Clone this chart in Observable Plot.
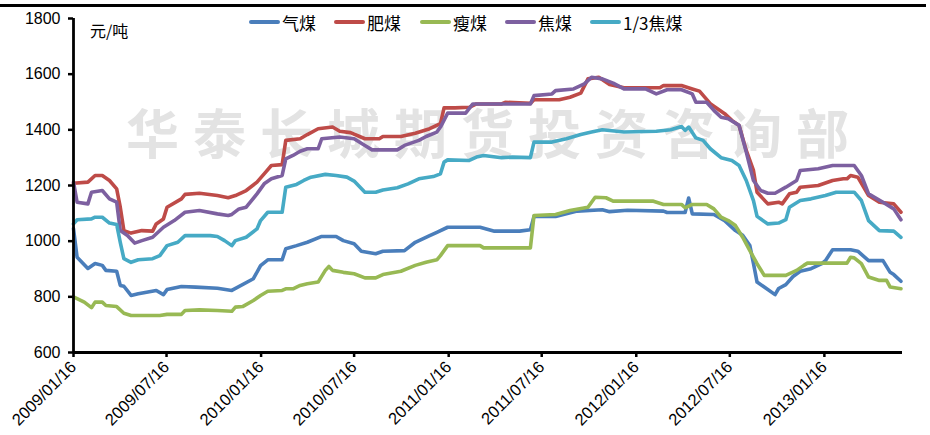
<!DOCTYPE html>
<html>
<head>
<meta charset="utf-8">
<script src="https://cdn.jsdelivr.net/npm/d3@7"></script>
<script src="https://cdn.jsdelivr.net/npm/@observablehq/plot@0.6"></script>
<style>
  html, body { margin: 0; padding: 0; background: #fff; }
  #wrap { position: relative; width: 930px; height: 435px; overflow: hidden; font-family: "Liberation Sans", Arial, sans-serif; }
  #topline { position: absolute; left: 0; top: 4px; width: 926px; height: 3px; background: #000; }
  #watermark { position: absolute; left: 126px; top: 93px; font-family: "Noto Sans CJK SC", sans-serif; font-weight: 700; font-size: 53px; letter-spacing: 14px; color: #e3e3e3; white-space: nowrap; }
  #chart { position: absolute; left: 0; top: 0; }
  #unit { position: absolute; left: 90px; top: 18px; font-family: "Noto Sans CJK SC", sans-serif; font-size: 16px; color: #000; }
  .leg { position: absolute; top: 12px; height: 20px; display: flex; align-items: center; font-family: "Noto Sans CJK SC", sans-serif; font-size: 17px; color: #000; white-space: nowrap; }
  .leg span.sw { display: inline-block; width: 31px; height: 4px; border-radius: 2px; margin-right: 2px; }
</style>
</head>
<body>
<div id="wrap">
  <div id="topline"></div>
  <div id="watermark">华泰长城期货投资咨询部</div>
  <div id="chart"></div>
  <div id="unit">元/吨</div>
  <div id="legend"></div>
</div>
<script>
// ---- data (week offset from startDate, price in 元/吨) ----
const startDate = "2009-01-16";
const seriesNames = ["气煤", "肥煤", "瘦煤", "焦煤", "1/3焦煤"];
const seriesColors = ["#4A7EBB", "#BE4B48", "#98B954", "#7D60A0", "#46AAC5"];
const xTickDates = ["2009-01-16","2009-07-16","2010-01-16","2010-07-16","2011-01-16","2011-07-16","2012-01-16","2012-07-16","2013-01-16"];
const xDomainEnd = "2013-06-17";
const yTicks = [600, 800, 1000, 1200, 1400, 1600, 1800];

const qimei = [[0,1045],[1,942],[4,902],[6,920],[8,913],[9,895],[12,892],[13,841],[14,838],[16,805],[18,811],[23,823],[25,808],[26,826],[30,837],[34,835],[40,831],[44,823],[50,865],[52,912],[54,933],[58,933],[59,973],[62,984],[65,996],[69,1017],[73,1017],[75,1002],[78,991],[80,964],[84,955],[86,964],[92,966],[95,996],[99,1020],[101,1032],[104,1050],[113,1050],[117,1036],[124,1036],[127,1041],[128,1089],[134,1089],[140,1108],[147,1113],[149,1106],[154,1111],[164,1108],[165,1103],[170,1103],[171,1155],[172,1098],[178,1096],[181,1074],[184,1038],[186,1021],[188,984],[189,920],[190,853],[192,835],[195,808],[196,830],[198,844],[200,873],[202,892],[205,901],[208,919],[209,930],[211,969],[216,969],[218,964],[221,930],[225,930],[227,888],[228,880],[230,856]];

const feimei = [[0,1208],[4,1212],[6,1236],[8,1236],[10,1218],[12,1188],[13,1122],[14,1038],[16,1029],[19,1038],[22,1036],[23,1062],[25,1080],[26,1122],[30,1152],[31,1168],[35,1172],[40,1164],[43,1156],[45,1164],[48,1182],[51,1212],[53,1242],[55,1272],[58,1275],[59,1362],[63,1368],[65,1383],[68,1404],[72,1410],[74,1395],[77,1390],[81,1368],[85,1368],[86,1376],[91,1376],[95,1388],[99,1404],[102,1422],[103,1479],[106,1479],[110,1481],[112,1493],[119,1493],[120,1499],[127,1495],[128,1508],[135,1508],[138,1517],[141,1532],[143,1583],[146,1589],[149,1563],[153,1551],[163,1551],[164,1559],[169,1559],[172,1547],[174,1539],[177,1494],[181,1458],[183,1434],[185,1416],[187,1326],[189,1254],[190,1176],[193,1134],[196,1140],[197,1134],[199,1170],[201,1176],[202,1194],[207,1200],[211,1218],[214,1224],[215,1224],[216,1236],[218,1230],[221,1164],[224,1140],[228,1134],[230,1104]];

const shoumei = [[0,800],[3,781],[5,761],[6,781],[8,781],[9,769],[12,765],[14,741],[16,733],[24,733],[26,737],[30,737],[31,751],[35,753],[40,751],[44,748],[45,763],[47,765],[50,787],[52,805],[54,820],[58,823],[59,829],[61,829],[63,841],[65,847],[68,853],[70,895],[71,909],[72,895],[75,888],[78,883],[81,868],[84,868],[86,880],[91,892],[95,913],[98,924],[101,933],[102,948],[104,984],[113,984],[114,976],[127,976],[128,1092],[134,1096],[138,1110],[143,1122],[145,1158],[148,1156],[150,1144],[161,1144],[164,1132],[169,1132],[170,1120],[172,1132],[176,1132],[178,1116],[180,1086],[182,1074],[184,1056],[186,1014],[188,966],[190,919],[192,877],[198,877],[201,895],[203,913],[204,921],[215,921],[216,942],[217,940],[219,919],[221,871],[224,859],[226,859],[227,835],[230,829]];

const jiaomei = [[0,1212],[1,1140],[4,1134],[5,1176],[8,1182],[10,1152],[12,1140],[13,1038],[15,1020],[17,993],[19,1002],[22,1014],[25,1050],[28,1074],[31,1104],[35,1110],[40,1098],[43,1092],[44,1096],[46,1116],[48,1122],[51,1170],[53,1206],[55,1224],[58,1236],[59,1296],[61,1308],[63,1323],[65,1332],[68,1332],[69,1368],[74,1374],[78,1368],[81,1344],[83,1328],[90,1328],[92,1344],[96,1362],[98,1376],[101,1392],[102,1410],[104,1460],[109,1460],[111,1493],[127,1493],[128,1523],[133,1529],[134,1541],[139,1547],[142,1565],[144,1589],[147,1583],[150,1568],[153,1547],[159,1547],[162,1529],[165,1544],[169,1544],[172,1529],[173,1499],[176,1499],[178,1470],[180,1445],[182,1440],[185,1416],[187,1320],[189,1218],[191,1182],[193,1172],[195,1172],[198,1194],[201,1218],[202,1254],[207,1260],[211,1272],[217,1272],[219,1236],[221,1170],[225,1140],[228,1116],[230,1077]];

const sanfenJiaomei = [[0,1062],[1,1077],[5,1080],[6,1086],[8,1086],[10,1065],[12,1060],[13,996],[14,937],[16,924],[18,933],[22,937],[24,948],[26,984],[29,996],[31,1020],[38,1020],[40,1017],[42,1002],[44,984],[45,1002],[48,1014],[51,1044],[52,1074],[54,1104],[58,1104],[59,1194],[62,1204],[64,1218],[66,1230],[70,1240],[73,1236],[76,1230],[78,1216],[81,1176],[84,1176],[86,1184],[90,1192],[93,1206],[96,1224],[100,1232],[102,1242],[103,1284],[104,1292],[110,1290],[112,1302],[114,1308],[119,1300],[122,1302],[127,1300],[128,1356],[133,1356],[137,1368],[141,1383],[144,1392],[147,1400],[153,1392],[162,1395],[166,1400],[169,1412],[170,1398],[171,1410],[173,1371],[175,1362],[177,1332],[180,1300],[183,1290],[185,1272],[187,1218],[189,1146],[190,1089],[193,1062],[196,1065],[198,1077],[199,1122],[202,1146],[205,1152],[209,1164],[212,1176],[217,1176],[219,1146],[221,1074],[224,1038],[228,1036],[230,1014]];

const seriesValues = [qimei, feimei, shoumei, jiaomei, sanfenJiaomei];

// ---- build table ----
const t0 = new Date(startDate).getTime();
const rows = seriesValues.flatMap((arr, i) =>
  arr.map(([w, v]) => ({ series: seriesNames[i], date: new Date(t0 + w * 7 * 864e5), value: v }))
);
const x0 = new Date(startDate);
const x1 = new Date(xDomainEnd);

const chart = Plot.plot({
  width: 930,
  height: 435,
  marginLeft: 73,
  marginRight: 28,
  marginTop: 18,
  marginBottom: 83,
  style: { background: "transparent", fontFamily: "Liberation Sans, Arial, sans-serif", fontSize: "16px", color: "#000" },
  x: { type: "utc", domain: [x0, x1] },
  y: { domain: [600, 1800] },
  color: { domain: seriesNames, range: seriesColors },
  marks: [
    Plot.line(rows, { x: "date", y: "value", z: "series", stroke: "series", strokeWidth: 3.6, curve: "linear", strokeLinejoin: "round", strokeLinecap: "round" }),
    Plot.axisY({ ticks: yTicks, tickFormat: d => String(d), tickSize: 5, tickPadding: 8, strokeWidth: 2.5, fontSize: 16, label: null }),
    Plot.axisX({ ticks: xTickDates.map(d => new Date(d)), tickFormat: d3.utcFormat("%Y/%m/%d"), tickSize: 5, strokeWidth: 2.5, tickRotate: -45, fontSize: 16.5, label: null }),
    Plot.ruleX([x0], { stroke: "#000", strokeWidth: 2.8 }),
    Plot.ruleY([600], { stroke: "#000", strokeWidth: 2.8 })
  ]
});
document.getElementById("chart").appendChild(chart);

// ---- legend ----
const legendLeft = [249, 334, 420, 505, 590];
const legend = document.getElementById("legend");
seriesNames.forEach((name, i) => {
  const item = document.createElement("div");
  item.className = "leg";
  item.style.left = legendLeft[i] + "px";
  item.innerHTML = `<span class="sw" style="background:${seriesColors[i]}"></span>${name}`;
  legend.appendChild(item);
});
</script>
</body>
</html>
